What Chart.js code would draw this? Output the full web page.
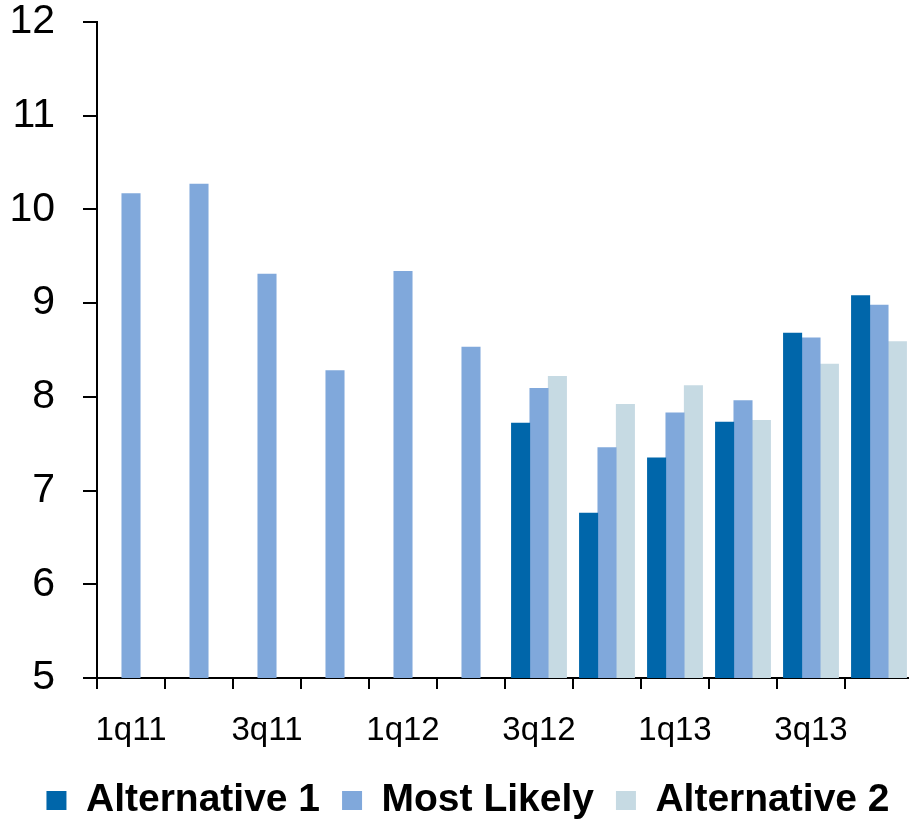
<!DOCTYPE html>
<html>
<head>
<meta charset="utf-8">
<script src="https://cdn.jsdelivr.net/npm/chart.js@4.4.1/dist/chart.umd.min.js"></script>
<style>
  html, body { margin: 0; padding: 0; background: #fff; overflow: hidden; }
  #wrap { width: 913px; height: 820px; }
</style>
</head>
<body>
<div id="wrap"><canvas id="forecastChart"></canvas></div>
<script>
const quarters = ["1q11", "2q11", "3q11", "4q11", "1q12", "2q12", "3q12", "4q12", "1q13", "2q13", "3q13", "4q13"];
const alternative1 = [null, null, null, null, null, null, 7.72, 6.76, 7.35, 7.73, 8.68, 9.08];
const mostLikely = [10.17, 10.27, 9.31, 8.28, 9.34, 8.53, 8.09, 7.46, 7.83, 7.96, 8.63, 8.98];
const alternative2 = [null, null, null, null, null, null, 8.22, 7.92, 8.12, 7.75, 8.35, 8.59];
const yTicks = [5, 6, 7, 8, 9, 10, 11, 12];

const FONT = "Arial, 'Liberation Sans', sans-serif";

function makeDataset(label, data, color) {
  return {
    label: label,
    data: data,
    backgroundColor: color,
    borderWidth: 0,
    barThickness: 18.4,
    skipNull: true,
  };
}

// nudge the legend row a little right and down from where the layout puts it
const legendNudge = {
  id: "legendNudge",
  afterLayout(chart) {
    chart.legend.left = 23;
    chart.legend.top += 10;
  },
};

new Chart(document.getElementById("forecastChart"), {
  type: "bar",
  data: {
    labels: quarters,
    datasets: [
      makeDataset("Alternative 1", alternative1, "#0066aa"),
      makeDataset("Most Likely", mostLikely, "#80a8db"),
      makeDataset("Alternative 2", alternative2, "#c6dae3"),
    ],
  },
  plugins: [legendNudge],
  options: {
    responsive: true,
    maintainAspectRatio: false,
    animation: false,
    layout: { padding: 0 },
    plugins: {
      tooltip: { enabled: false },
      legend: {
        position: "bottom",
        labels: {
          boxWidth: 20,
          boxHeight: 19,
          padding: 22,
          color: "#000",
          font: { family: FONT, size: 39, weight: "bold" },
        },
      },
    },
    scales: {
      x: {
        grid: {
          offset: true,
          drawOnChartArea: false,
          drawTicks: true,
          tickLength: 11,
          color: "#000",
          lineWidth: 2,
        },
        border: { display: true, color: "#000", width: 2 },
        ticks: {
          autoSkip: false,
          maxRotation: 0,
          padding: 22,
          color: "#000",
          font: { family: FONT, size: 33 },
          // only every second quarter gets a label
          callback: (value, index) => (index % 2 === 0 ? quarters[index] : ""),
        },
        afterFit: (scale) => { scale.height = 71; },
      },
      y: {
        min: 5,
        max: 12,
        grid: {
          drawOnChartArea: false,
          drawTicks: true,
          tickLength: 14,
          color: "#000",
          lineWidth: 2,
        },
        border: { display: true, color: "#000", width: 2 },
        afterBuildTicks: (scale) => { scale.ticks = yTicks.map((v) => ({ value: v })); },
        ticks: {
          padding: 28,
          color: "#000",
          font: { family: FONT, size: 41, lineHeight: 1 },
        },
        afterFit: (scale) => {
          scale.width = 97;
          scale.paddingTop = 22;
          scale.paddingBottom = 0;
        },
      },
    },
  },
});
</script>
</body>
</html>
